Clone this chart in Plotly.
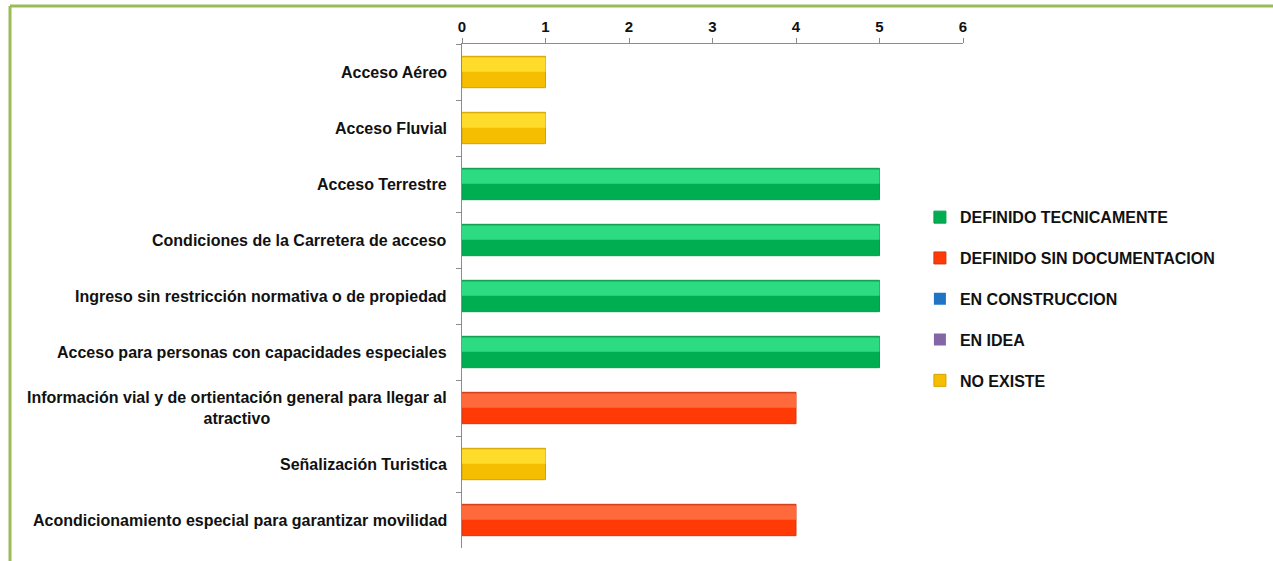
import plotly.graph_objects as go

# --- data -------------------------------------------------------------
categories = [
    "Acceso Aéreo",
    "Acceso Fluvial",
    "Acceso Terrestre",
    "Condiciones de la Carretera de acceso",
    "Ingreso sin restricción normativa o de propiedad",
    "Acceso para personas con capacidades especiales",
    "Información vial y de ortientación general para llegar al<br>atractivo",
    "Señalización Turistica",
    "Acondicionamiento especial para garantizar movilidad",
]
values = [1, 1, 5, 5, 5, 5, 4, 1, 4]
status = [
    "NO EXISTE",
    "NO EXISTE",
    "DEFINIDO TECNICAMENTE",
    "DEFINIDO TECNICAMENTE",
    "DEFINIDO TECNICAMENTE",
    "DEFINIDO TECNICAMENTE",
    "DEFINIDO SIN DOCUMENTACION",
    "NO EXISTE",
    "DEFINIDO SIN DOCUMENTACION",
]
status_order = [
    "DEFINIDO TECNICAMENTE",
    "DEFINIDO SIN DOCUMENTACION",
    "EN CONSTRUCCION",
    "EN IDEA",
    "NO EXISTE",
]
x_ticks = [0, 1, 2, 3, 4, 5, 6]

# --- styling ----------------------------------------------------------
# (base colour, highlight colour, outline colour)
palette = {
    "DEFINIDO TECNICAMENTE": ("#00AE52", "#2DDC82", "#0A9A4E"),
    "DEFINIDO SIN DOCUMENTACION": ("#FF3A06", "#FF6A3C", "#C93A14"),
    "EN CONSTRUCCION": ("#1F74C4", "#4A9AE0", "#1A5E9E"),
    "EN IDEA": ("#8466A6", "#A088C0", "#6A5088"),
    "NO EXISTE": ("#F6BE00", "#FFDC2A", "#D4A200"),
}

W, H = 1273, 561
ML, MR, MT, MB = 462, 310, 44, 13
FONT = "Liberation Sans, Arial, sans-serif"
BAR_W = 0.56
TXT = dict(family=FONT, size=16, color="#111111", weight="bold")

fig = go.Figure()

for st in status_order:
    base, light, edge = palette[st]
    ys = [c for c, s in zip(categories, status) if s == st]
    xs = [v for v, s in zip(values, status) if s == st]
    if not ys:
        # categories with no entries still get a legend key (zero-length bar)
        ys, xs = [categories[0]], [0]
    # main bar body
    fig.add_trace(go.Bar(
        y=ys, x=xs, orientation="h", name=st,
        legendgroup=st,
        width=BAR_W, offset=-BAR_W / 2,
        marker=dict(color=base, line=dict(color=edge, width=1 if xs[0] else 0)),
        hoverinfo="x+y",
    ))
    # lighter upper half for the bevelled look
    fig.add_trace(go.Bar(
        y=ys, x=xs, orientation="h", name=st,
        legendgroup=st, showlegend=False,
        width=BAR_W * 0.46, offset=-BAR_W / 2 + 0.02,
        marker=dict(color=light, line=dict(width=0)),
        hoverinfo="skip",
    ))

# category labels, centred on multi-line entries
for c in categories:
    fig.add_annotation(
        x=0, xref="x", y=c, yref="y",
        text=c, showarrow=False,
        xanchor="right", yanchor="middle", align="center",
        xshift=-13,
        font=TXT,
    )

# outer frame lines (top and left edges of the chart box)
pw = W - ML - MR
ph = H - MT - MB
frame_x = (10 - ML) / pw
frame_y = 1 + (MT - 6) / ph
fig.add_shape(type="line", xref="paper", yref="paper",
              x0=frame_x, x1=(W - ML) / pw, y0=frame_y, y1=frame_y,
              line=dict(color="#9BBB59", width=3))
fig.add_shape(type="line", xref="paper", yref="paper",
              x0=frame_x, x1=frame_x, y0=frame_y, y1=-MB / ph,
              line=dict(color="#9BBB59", width=3))

fig.update_layout(
    width=W, height=H,
    margin=dict(l=ML, r=MR, t=MT, b=MB),
    paper_bgcolor="white", plot_bgcolor="white",
    barmode="overlay",
    showlegend=True,
    legend=dict(
        x=0.914, xanchor="left", y=0.690, yanchor="top",
        font=TXT,
        tracegroupgap=17, traceorder="grouped",
        bgcolor="rgba(0,0,0,0)",
    ),
    font=dict(family=FONT, color="#111111"),
)

fig.update_xaxes(
    side="top", range=[0, 6], tickvals=x_ticks,
    showgrid=False, zeroline=False,
    showline=True, linecolor="#8C8C8C", linewidth=1,
    ticks="outside", ticklen=5, tickcolor="#8C8C8C",
    tickfont=dict(family=FONT, size=15, color="#111111", weight="bold"),
)
fig.update_yaxes(
    type="category", categoryorder="array", categoryarray=categories,
    autorange="reversed",
    showgrid=False, zeroline=False,
    showline=True, linecolor="#8C8C8C", linewidth=1,
    ticks="outside", ticklen=5, tickcolor="#8C8C8C", tickson="boundaries",
    showticklabels=False,
)

fig.write_html("out.html")
